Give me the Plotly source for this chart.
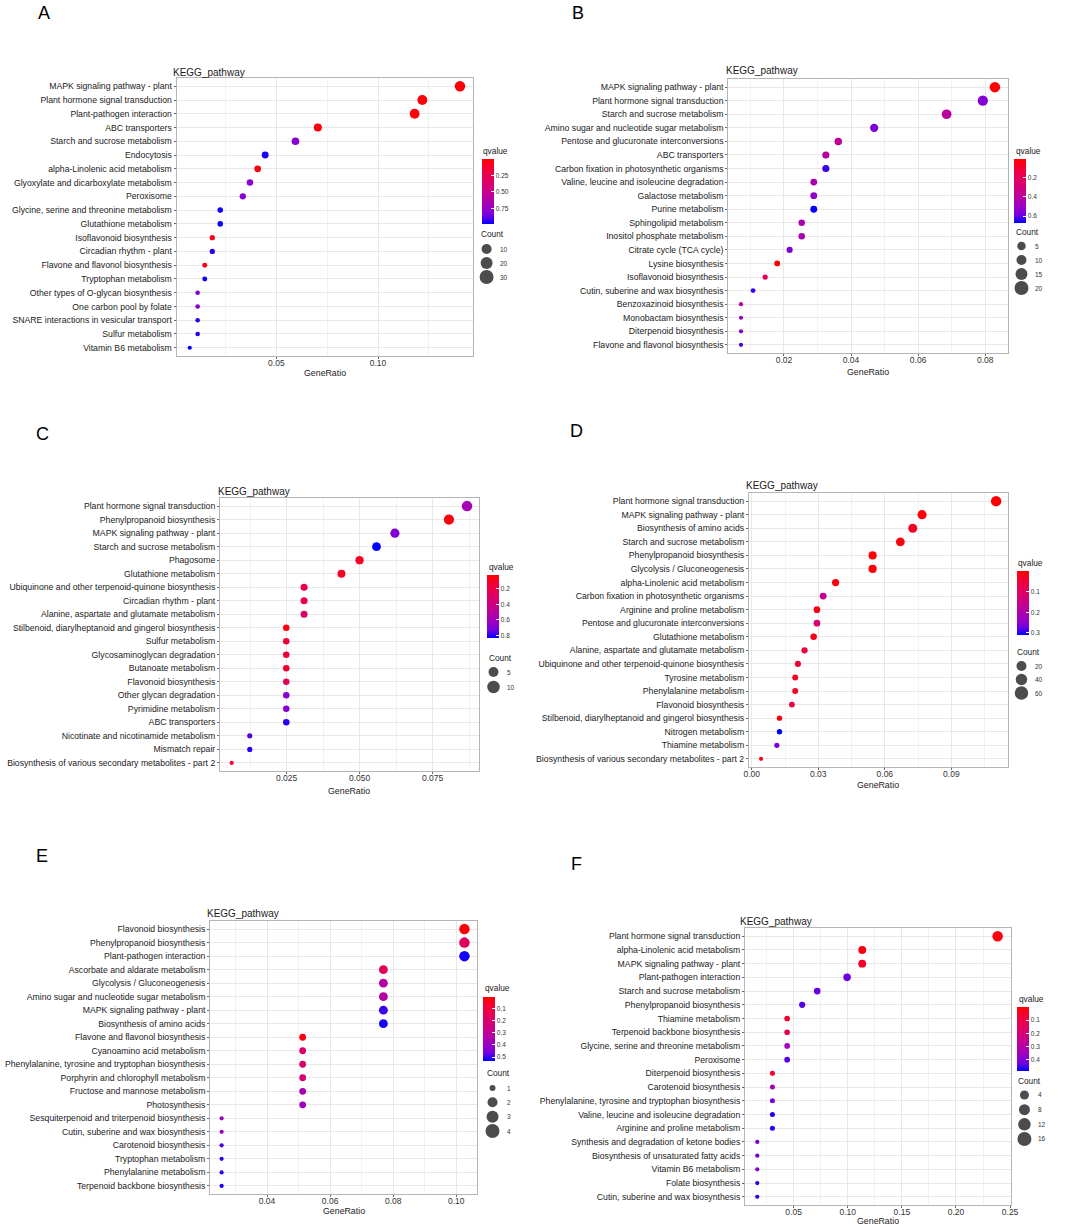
"""Six KEGG pathway enrichment dot plots (panels A-F) rebuilt with Plotly."""

import plotly.graph_objects as go

W, H = 1065, 1227
FONT = "Liberation Sans, Arial, sans-serif"

# ---------------------------------------------------------------- data
A_terms = [
    "MAPK signaling pathway - plant", "Plant hormone signal transduction",
    "Plant-pathogen interaction", "ABC transporters", "Starch and sucrose metabolism",
    "Endocytosis", "alpha-Linolenic acid metabolism",
    "Glyoxylate and dicarboxylate metabolism", "Peroxisome",
    "Glycine, serine and threonine metabolism", "Glutathione metabolism",
    "Isoflavonoid biosynthesis", "Circadian rhythm - plant",
    "Flavone and flavonol biosynthesis", "Tryptophan metabolism",
    "Other types of O-glycan biosynthesis", "One carbon pool by folate",
    "SNARE interactions in vesicular transport", "Sulfur metabolism",
    "Vitamin B6 metabolism",
]
A_ratio = [0.1403, 0.1218, 0.1180, 0.0704, 0.0594, 0.0445, 0.0408, 0.0370, 0.0335, 0.0224,
           0.0224, 0.0185, 0.0185, 0.0148, 0.0148, 0.0113, 0.0113, 0.0113, 0.0113, 0.0074]
A_count = [38, 33, 32, 19, 16, 12, 11, 10, 9, 6, 6, 5, 5, 4, 4, 3, 3, 3, 3, 2]
A_qvalue = [0.01, 0.02, 0.03, 0.03, 0.80, 0.96, 0.04, 0.78, 0.80, 0.97,
            0.97, 0.06, 0.95, 0.05, 0.96, 0.80, 0.80, 0.94, 0.95, 0.98]

B_terms = [
    "MAPK signaling pathway - plant", "Plant hormone signal transduction",
    "Starch and sucrose metabolism", "Amino sugar and nucleotide sugar metabolism",
    "Pentose and glucuronate interconversions", "ABC transporters",
    "Carbon fixation in photosynthetic organisms",
    "Valine, leucine and isoleucine degradation", "Galactose metabolism",
    "Purine metabolism", "Sphingolipid metabolism", "Inositol phosphate metabolism",
    "Citrate cycle (TCA cycle)", "Lysine biosynthesis", "Isoflavonoid biosynthesis",
    "Cutin, suberine and wax biosynthesis", "Benzoxazinoid biosynthesis",
    "Monobactam biosynthesis", "Diterpenoid biosynthesis",
    "Flavone and flavonol biosynthesis",
]
B_ratio = [0.0829, 0.0793, 0.0685, 0.0469, 0.0362, 0.0325, 0.0325, 0.0289, 0.0289, 0.0289,
           0.0253, 0.0253, 0.0217, 0.0180, 0.0144, 0.0108, 0.0072, 0.0072, 0.0072, 0.0072]
B_count = [23, 22, 19, 13, 10, 9, 9, 8, 8, 8, 7, 7, 6, 5, 4, 3, 2, 2, 2, 2]
B_qvalue = [0.01, 0.56, 0.40, 0.57, 0.38, 0.40, 0.63, 0.45, 0.52, 0.67,
            0.45, 0.45, 0.57, 0.01, 0.22, 0.63, 0.40, 0.52, 0.54, 0.62]

C_terms = [
    "Plant hormone signal transduction", "Phenylpropanoid biosynthesis",
    "MAPK signaling pathway - plant", "Starch and sucrose metabolism", "Phagosome",
    "Glutathione metabolism", "Ubiquinone and other terpenoid-quinone biosynthesis",
    "Circadian rhythm - plant", "Alanine, aspartate and glutamate metabolism",
    "Stilbenoid, diarylheptanoid and gingerol biosynthesis", "Sulfur metabolism",
    "Glycosaminoglycan degradation", "Butanoate metabolism", "Flavonoid biosynthesis",
    "Other glycan degradation", "Pyrimidine metabolism", "ABC transporters",
    "Nicotinate and nicotinamide metabolism", "Mismatch repair",
    "Biosynthesis of various secondary metabolites - part 2",
]
C_ratio = [0.0868, 0.0806, 0.0621, 0.0558, 0.0500, 0.0438, 0.0310, 0.0310, 0.0310, 0.0249,
           0.0249, 0.0249, 0.0249, 0.0249, 0.0249, 0.0249, 0.0249, 0.0124, 0.0124, 0.0062]
C_count = [14, 13, 10, 9, 8, 7, 5, 5, 5, 4, 4, 4, 4, 4, 4, 4, 4, 2, 2, 1]
C_qvalue = [0.58, 0.05, 0.70, 0.83, 0.10, 0.10, 0.20, 0.18, 0.33, 0.05,
            0.14, 0.14, 0.14, 0.25, 0.68, 0.68, 0.80, 0.76, 0.80, 0.15]

D_terms = [
    "Plant hormone signal transduction", "MAPK signaling pathway - plant",
    "Biosynthesis of amino acids", "Starch and sucrose metabolism",
    "Phenylpropanoid biosynthesis", "Glycolysis / Gluconeogenesis",
    "alpha-Linolenic acid metabolism", "Carbon fixation in photosynthetic organisms",
    "Arginine and proline metabolism", "Pentose and glucuronate interconversions",
    "Glutathione metabolism", "Alanine, aspartate and glutamate metabolism",
    "Ubiquinone and other terpenoid-quinone biosynthesis", "Tyrosine metabolism",
    "Phenylalanine metabolism", "Flavonoid biosynthesis",
    "Stilbenoid, diarylheptanoid and gingerol biosynthesis", "Nitrogen metabolism",
    "Thiamine metabolism", "Biosynthesis of various secondary metabolites - part 2",
]
D_ratio = [0.1102, 0.0768, 0.0726, 0.0670, 0.0545, 0.0545, 0.0378, 0.0322, 0.0294, 0.0294,
           0.0279, 0.0238, 0.0208, 0.0196, 0.0196, 0.0181, 0.0125, 0.0125, 0.0113, 0.0042]
D_count = [79, 55, 52, 48, 39, 39, 27, 23, 21, 21, 20, 17, 15, 14, 14, 13, 9, 9, 8, 3]
D_qvalue = [0.002, 0.005, 0.03, 0.01, 0.005, 0.005, 0.01, 0.17, 0.02, 0.12,
            0.02, 0.05, 0.04, 0.03, 0.03, 0.06, 0.01, 0.31, 0.26, 0.005]

E_terms = [
    "Flavonoid biosynthesis", "Phenylpropanoid biosynthesis",
    "Plant-pathogen interaction", "Ascorbate and aldarate metabolism",
    "Glycolysis / Gluconeogenesis", "Amino sugar and nucleotide sugar metabolism",
    "MAPK signaling pathway - plant", "Biosynthesis of amino acids",
    "Flavone and flavonol biosynthesis", "Cyanoamino acid metabolism",
    "Phenylalanine, tyrosine and tryptophan biosynthesis",
    "Porphyrin and chlorophyll metabolism", "Fructose and mannose metabolism",
    "Photosynthesis", "Sesquiterpenoid and triterpenoid biosynthesis",
    "Cutin, suberine and wax biosynthesis", "Carotenoid biosynthesis",
    "Tryptophan metabolism", "Phenylalanine metabolism",
    "Terpenoid backbone biosynthesis",
]
E_ratio = [0.1026, 0.1026, 0.1026, 0.0769, 0.0769, 0.0769, 0.0769, 0.0769, 0.0513, 0.0513,
           0.0513, 0.0513, 0.0513, 0.0513, 0.0256, 0.0256, 0.0256, 0.0256, 0.0256, 0.0256]
E_count = [4, 4, 4, 3, 3, 3, 3, 3, 2, 2, 2, 2, 2, 2, 1, 1, 1, 1, 1, 1]
E_qvalue = [0.01, 0.17, 0.52, 0.16, 0.33, 0.33, 0.50, 0.52, 0.03, 0.20,
            0.20, 0.22, 0.36, 0.39, 0.40, 0.40, 0.49, 0.51, 0.51, 0.52]

F_terms = [
    "Plant hormone signal transduction", "alpha-Linolenic acid metabolism",
    "MAPK signaling pathway - plant", "Plant-pathogen interaction",
    "Starch and sucrose metabolism", "Phenylpropanoid biosynthesis",
    "Thiamine metabolism", "Terpenoid backbone biosynthesis",
    "Glycine, serine and threonine metabolism", "Peroxisome",
    "Diterpenoid biosynthesis", "Carotenoid biosynthesis",
    "Phenylalanine, tyrosine and tryptophan biosynthesis",
    "Valine, leucine and isoleucine degradation", "Arginine and proline metabolism",
    "Synthesis and degradation of ketone bodies",
    "Biosynthesis of unsaturated fatty acids", "Vitamin B6 metabolism",
    "Folate biosynthesis", "Cutin, suberine and wax biosynthesis",
]
F_ratio = [0.2385, 0.1134, 0.1134, 0.0994, 0.0718, 0.0579, 0.0440, 0.0440, 0.0440, 0.0440,
           0.0304, 0.0304, 0.0304, 0.0304, 0.0304, 0.0164, 0.0164, 0.0164, 0.0164, 0.0164]
F_count = [17, 8, 8, 7, 5, 4, 3, 3, 3, 3, 2, 2, 2, 2, 2, 1, 1, 1, 1, 1]
F_qvalue = [0.01, 0.02, 0.05, 0.43, 0.43, 0.44, 0.07, 0.13, 0.35, 0.44,
            0.05, 0.34, 0.41, 0.47, 0.47, 0.42, 0.42, 0.40, 0.47, 0.47]

# colour-bar ticks and size-legend breaks per panel
A_qticks, B_qticks, C_qticks = [0.25, 0.50, 0.75], [0.2, 0.4, 0.6], [0.2, 0.4, 0.6, 0.8]
D_qticks, E_qticks, F_qticks = [0.1, 0.2, 0.3], [0.1, 0.2, 0.3, 0.4, 0.5], [0.1, 0.2, 0.3, 0.4]
A_breaks, B_breaks, C_breaks = [10, 20, 30], [5, 10, 15, 20], [5, 10]
D_breaks, E_breaks, F_breaks = [20, 40, 60], [1, 2, 3, 4], [4, 8, 12, 16]

# ggplot-like red -> blue gradient (Lab interpolation), low qvalue = red
SCALE = [
    [0.0, "rgb(0,0,255)"], [0.125, "rgb(115,0,224)"], [0.25, "rgb(155,0,195)"],
    [0.5, "rgb(202,0,137)"], [0.75, "rgb(232,0,79)"], [0.875, "rgb(244,0,49)"],
    [1.0, "rgb(255,0,0)"],
]

# ---------------------------------------------------------------- layout (pixels)
panels = [
    dict(letter="A", terms=A_terms, ratio=A_ratio, count=A_count, q=A_qvalue,
         qticks=A_qticks, qfmt="{:.2f}", breaks=A_breaks, leg_d=[10, 12, 14],
         box=(173, 473, 78, 356), xr=(0.001, 0.1466), dt=0.05, fmt=".2f",
         qr=(0.0, 0.985), cb=(482, 159, 65), qtitle=(481, 151), ctitle=(479, 234),
         keys=(487, 249, 277), labx=499, title=(167, 72), xlab=373, lpos=(38, 13)),
    dict(letter="B", terms=B_terms, ratio=B_ratio, count=B_count, q=B_qvalue,
         qticks=B_qticks, qfmt="{:.1f}", breaks=B_breaks, leg_d=[8.5, 10, 12, 14],
         box=(732, 1015, 79, 353), xr=(0.00344, 0.0867), dt=0.02, fmt=".2f",
         qr=(0.005, 0.673), cb=(1021, 159, 64), qtitle=(1021, 151), ctitle=(1021, 232),
         keys=(1029, 246, 288), labx=1041, title=(728, 71), xlab=372, lpos=(580, 13)),
    dict(letter="C", terms=C_terms, ratio=C_ratio, count=C_count, q=C_qvalue,
         qticks=C_qticks, qfmt="{:.1f}", breaks=C_breaks, leg_d=[10, 12.5],
         box=(217, 479, 498, 771), xr=(0.00226, 0.0908), dt=0.025, fmt=".3f",
         qr=(0.024, 0.833), cb=(487, 575, 63), qtitle=(487, 567), ctitle=(487, 658),
         keys=(494, 672, 687), labx=506, title=(213, 491), xlab=791, lpos=(37, 434)),
    dict(letter="D", terms=D_terms, ratio=D_ratio, count=D_count, q=D_qvalue,
         qticks=D_qticks, qfmt="{:.1f}", breaks=D_breaks, leg_d=[10, 11.5, 13.5],
         box=(753, 1015, 493, 767), xr=(-0.0012, 0.1154), dt=0.03, fmt=".2f",
         qr=(0.0, 0.31), cb=(1024, 571, 64), qtitle=(1023, 563), ctitle=(1022, 652),
         keys=(1029, 666, 693), labx=1041, title=(748, 485), xlab=785, lpos=(578, 431)),
    dict(letter="E", terms=E_terms, ratio=E_ratio, count=E_count, q=E_qvalue,
         qticks=E_qticks, qfmt="{:.1f}", breaks=E_breaks, leg_d=[6, 10, 12, 14],
         box=(207, 477, 921, 1194), xr=(0.022, 0.1065), dt=0.02, fmt=".2f",
         qr=(0.003, 0.533), cb=(483, 997, 64), qtitle=(483, 988), ctitle=(485, 1073),
         keys=(493, 1088, 1131), labx=506, title=(202, 913), xlab=1211, lpos=(36, 856)),
    dict(letter="F", terms=F_terms, ratio=F_ratio, count=F_count, q=F_qvalue,
         qticks=F_qticks, qfmt="{:.1f}", breaks=F_breaks, leg_d=[9, 11, 12.5, 14],
         box=(749, 1018, 928, 1205), xr=(0.0052, 0.2505), dt=0.05, fmt=".2f",
         qr=(0.0, 0.486), cb=(1024, 1007, 64), qtitle=(1024, 999), ctitle=(1023, 1081),
         keys=(1032, 1095, 1139), labx=1044, title=(742, 921), xlab=1221, lpos=(578, 864)),
]


def px(x):
    return x / W


def py(y):
    return 1 - y / H


fig = go.Figure()
layout = {}
annotations = []
txt = dict(family=FONT, color="#1a1a1a")

for i, p in enumerate(panels, start=1):
    l, r, t, b = p["box"]
    n = len(p["terms"])
    cmin, cmax = min(p["count"]), max(p["count"])
    smin, smax = cmin ** 0.5, cmax ** 0.5
    sizes = [4.2 + 6.3 * (c ** 0.5 - smin) / (smax - smin) for c in p["count"]]
    qlo, qhi = p["qr"]
    cbx, cbt, cbl = p["cb"]

    fig.add_trace(go.Scatter(
        x=p["ratio"], y=p["terms"], mode="markers", xaxis=f"x{i}", yaxis=f"y{i}",
        cliponaxis=False,
        marker=dict(
            size=sizes, opacity=1, line=dict(width=0),
            color=[-q for q in p["q"]], cmin=-qhi, cmax=-qlo, colorscale=SCALE,
            colorbar=dict(
                x=px(cbx), xanchor="left", y=py(cbt), yanchor="top",
                len=cbl, lenmode="pixels", thickness=12, thicknessmode="pixels",
                xpad=0, ypad=0, outlinewidth=0,
                tickvals=[-v for v in p["qticks"]],
                ticktext=[p["qfmt"].format(v) for v in p["qticks"]],
                ticks="inside", ticklen=3, tickcolor="white",
                tickfont=dict(family=FONT, size=6.5, color="#333"),
            ),
        ),
        customdata=p["q"],
        hovertemplate="%{y}<br>GeneRatio: %{x}<br>qvalue: %{customdata}<extra></extra>",
    ))

    layout[f"xaxis{i}"] = dict(
        domain=[px(l), px(r)], range=list(p["xr"]), anchor=f"y{i}",
        tick0=0, dtick=p["dt"], tickformat=p["fmt"],
        showgrid=True, gridcolor="#e8e8e8", gridwidth=0.8, zeroline=False,
        minor=dict(tick0=0, dtick=p["dt"] / 2, showgrid=True,
                   gridcolor="#f3f3f3", gridwidth=0.6),
        showline=True, mirror=True, linecolor="#b5b5b5", linewidth=1.3,
        ticks="outside", ticklen=2, tickcolor="#666", ticklabelstandoff=-3,
        tickfont=dict(family=FONT, size=8.5, color="#333"),
    )
    layout[f"yaxis{i}"] = dict(
        domain=[py(b), py(t)], anchor=f"x{i}", type="category",
        categoryarray=p["terms"], range=[n - 0.4, -0.6],
        showgrid=True, gridcolor="#e8e8e8", gridwidth=0.8, zeroline=False,
        showline=True, mirror=True, linecolor="#b5b5b5", linewidth=1.3,
        ticks="outside", ticklen=2, tickcolor="#666",
        tickfont=dict(family=FONT, size=8.7, color="#1a1a1a"),
    )

    # size legend on its own hidden axes
    kx, ky0, ky1 = p["keys"]
    m = len(p["breaks"])
    sp = (ky1 - ky0) / (m - 1)
    j = i + 6
    layout[f"xaxis{j}"] = dict(domain=[px(kx - 10), px(kx + 10)], range=[-1, 1],
                               visible=False, anchor=f"y{j}")
    layout[f"yaxis{j}"] = dict(domain=[py(ky1 + sp / 2), py(ky0 - sp / 2)],
                               range=[m - 0.5, -0.5], visible=False, anchor=f"x{j}")
    fig.add_trace(go.Scatter(
        x=[0] * m, y=list(range(m)), mode="markers", xaxis=f"x{j}", yaxis=f"y{j}",
        cliponaxis=False, hoverinfo="skip",
        marker=dict(size=p["leg_d"], color="black", line=dict(width=0)),
    ))
    for k, br in enumerate(p["breaks"]):
        annotations.append(dict(
            x=px(p["labx"]), xref="paper", y=k, yref=f"y{j}", text=str(br),
            showarrow=False, xanchor="left", yanchor="middle",
            font=dict(family=FONT, size=6.5, color="#333"),
        ))

    # panel texts
    annotations += [
        dict(x=px(p["lpos"][0]), y=py(p["lpos"][1]), text=p["letter"], xanchor="center",
             font=dict(family=FONT, size=18, color="black")),
        dict(x=px(p["title"][0]), y=py(p["title"][1]), text="KEGG_pathway",
             xanchor="left", font=dict(size=10, **txt)),
        dict(x=px((l + r) / 2), y=py(p["xlab"]), text="GeneRatio", xanchor="center",
             font=dict(size=8.8, **txt)),
        dict(x=px(p["qtitle"][0]), y=py(p["qtitle"][1]), text="qvalue",
             xanchor="left", font=dict(size=8.3, **txt)),
        dict(x=px(p["ctitle"][0]), y=py(p["ctitle"][1]), text="Count",
             xanchor="left", font=dict(size=8.3, **txt)),
    ]

for a in annotations:
    a.setdefault("xref", "paper")
    a.setdefault("yref", "paper")
    a.setdefault("showarrow", False)
    a.setdefault("yanchor", "middle")

fig.update_layout(
    width=W, height=H, margin=dict(l=0, r=0, t=0, b=0),
    paper_bgcolor="white", plot_bgcolor="white",
    showlegend=False, annotations=annotations, **layout,
)

# the default page keeps an 8px body margin; drop it so the figure sits at 0,0
fig.write_html(
    "out.html",
    config={"displayModeBar": False},
    post_script="document.body.style.margin='0px';document.body.style.overflow='hidden';",
)
